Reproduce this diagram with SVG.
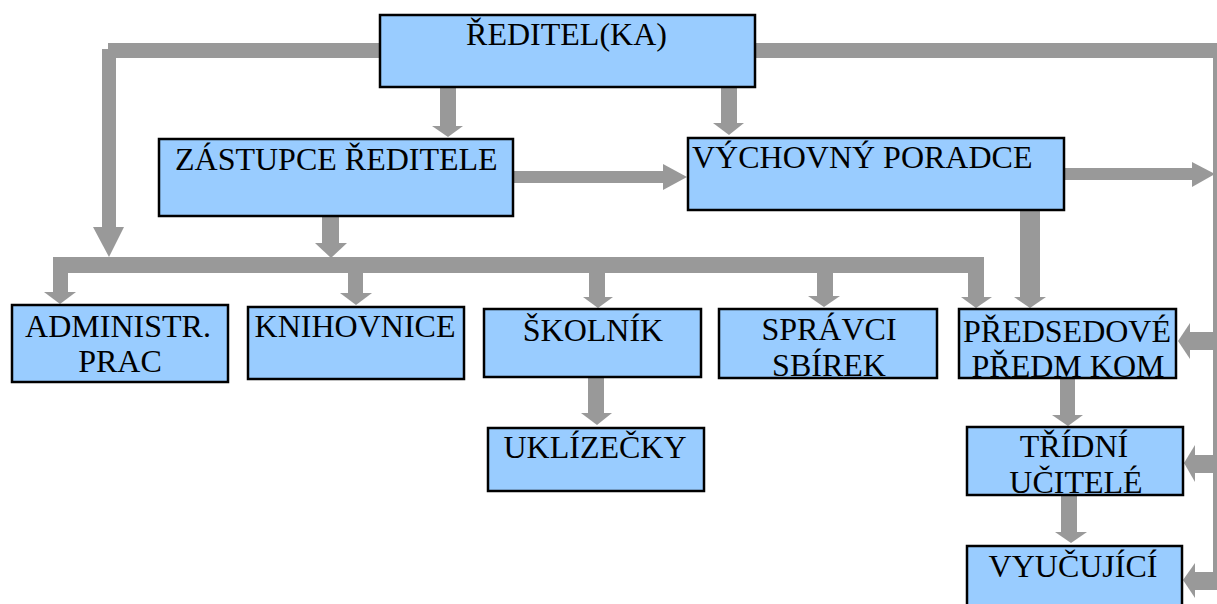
<svg xmlns="http://www.w3.org/2000/svg" width="1217" height="604" viewBox="0 0 1217 604">
<style>
.c{fill:#999999;stroke:none}
.b{fill:#99CCFF;stroke:#000000;stroke-width:2.5}
.t{font-family:"Liberation Serif","Times New Roman",serif;font-size:32px;fill:#000000}
.m{text-anchor:middle}
</style>
<rect width="1217" height="604" fill="#ffffff"/>
<g id="connectors">
  <!-- top left elbow from director -->
  <rect class="c" x="108" y="43" width="272" height="15"/>
  <rect class="c" x="102" y="49" width="14" height="178"/>
  <polygon class="c" points="93,227 124,227 109,257"/>
  <!-- top right bus -->
  <rect class="c" x="755" y="43" width="470" height="15"/>
  <rect class="c" x="1213" y="43" width="20" height="547"/>
  <!-- director to deputy -->
  <rect class="c" x="440" y="87" width="16" height="39"/>
  <polygon class="c" points="432,126 463,126 448,137"/>
  <!-- director to counselor -->
  <rect class="c" x="721" y="87" width="16" height="36"/>
  <polygon class="c" points="713,123 744,123 729,135"/>
  <!-- deputy to counselor -->
  <rect class="c" x="513" y="171" width="150" height="12"/>
  <polygon class="c" points="663,164 663,190 687,177"/>
  <!-- counselor to right -->
  <rect class="c" x="1064" y="168" width="128" height="12"/>
  <polygon class="c" points="1192,162 1192,187 1215,174"/>
  <!-- deputy down to bus -->
  <rect class="c" x="322" y="216" width="17" height="27"/>
  <polygon class="c" points="315,243 347,243 331,258"/>
  <!-- distribution bus -->
  <rect class="c" x="53" y="257" width="931" height="16"/>
  <rect class="c" x="53" y="257" width="15" height="35"/>
  <polygon class="c" points="44,292 76,292 60,304"/>
  <rect class="c" x="348" y="272" width="15" height="21"/>
  <polygon class="c" points="340,293 372,293 356,305"/>
  <rect class="c" x="589" y="272" width="16" height="25"/>
  <polygon class="c" points="583,297 613,297 598,308"/>
  <rect class="c" x="817" y="272" width="16" height="24"/>
  <polygon class="c" points="808,296 840,296 824,307"/>
  <rect class="c" x="968" y="257" width="16" height="40"/>
  <polygon class="c" points="961,297 992,297 976,308"/>
  <!-- counselor down -->
  <rect class="c" x="1020" y="210" width="20" height="87"/>
  <polygon class="c" points="1014,297 1046,297 1030,308"/>
  <!-- skolnik to uklizecky -->
  <rect class="c" x="588" y="377" width="16" height="36"/>
  <polygon class="c" points="581,413 612,413 597,425"/>
  <!-- predsedove to tridni -->
  <rect class="c" x="1060" y="378" width="15" height="37"/>
  <polygon class="c" points="1052,415 1083,415 1068,426"/>
  <!-- tridni to vyucujici -->
  <rect class="c" x="1061" y="495" width="16" height="37"/>
  <polygon class="c" points="1055,532 1087,532 1071,543"/>
  <!-- left arrows from right bus -->
  <rect class="c" x="1189" y="332" width="28" height="18"/>
  <polygon class="c" points="1190,323 1190,359 1178,341"/>
  <rect class="c" x="1194" y="455" width="23" height="18"/>
  <polygon class="c" points="1195,445 1195,482 1184,463"/>
  <rect class="c" x="1194" y="572" width="23" height="18"/>
  <polygon class="c" points="1195,563 1195,598 1183,580"/>
</g>
<g id="reditel">
  <rect class="b" x="380" y="15" width="375" height="72"/>
  <text class="t m" x="566.5" y="45">ŘEDITEL(KA)</text>
</g>
<g id="zastupce">
  <rect class="b" x="159" y="139" width="354" height="77"/>
  <text class="t" x="175" y="170">ZÁSTUPCE ŘEDITELE</text>
</g>
<g id="vychovny">
  <rect class="b" x="688" y="138" width="376" height="72"/>
  <text class="t" x="692" y="168">VÝCHOVNÝ PORADCE</text>
</g>
<g id="administr">
  <rect class="b" x="12" y="305" width="216" height="77"/>
  <text class="t m" x="118" y="337">ADMINISTR.</text>
  <text class="t m" x="120" y="372">PRAC</text>
</g>
<g id="knihovnice">
  <rect class="b" x="248" y="307" width="216" height="72"/>
  <text class="t m" x="355" y="337">KNIHOVNICE</text>
</g>
<g id="skolnik">
  <rect class="b" x="484" y="309" width="217" height="68"/>
  <text class="t m" x="593" y="341">ŠKOLNÍK</text>
</g>
<g id="spravci">
  <rect class="b" x="719" y="309" width="218" height="69"/>
  <text class="t m" x="829" y="340">SPRÁVCI</text>
  <text class="t m" x="829" y="376">SBÍREK</text>
</g>
<g id="predsedove">
  <rect class="b" x="959" y="309" width="217" height="69"/>
  <text class="t m" x="1067" y="342">PŘEDSEDOVÉ</text>
  <text class="t m" x="1068" y="377">PŘEDM KOM</text>
</g>
<g id="uklizecky">
  <rect class="b" x="488" y="428" width="216" height="63"/>
  <text class="t m" x="595" y="458">UKLÍZEČKY</text>
</g>
<g id="tridni">
  <rect class="b" x="967" y="427" width="216" height="68"/>
  <text class="t m" x="1074" y="457">TŘÍDNÍ</text>
  <text class="t m" x="1076" y="493">UČITELÉ</text>
</g>
<g id="vyucujici">
  <rect class="b" x="967" y="546" width="215" height="70"/>
  <text class="t m" x="1073" y="577">VYUČUJÍCÍ</text>
</g>
</svg>
